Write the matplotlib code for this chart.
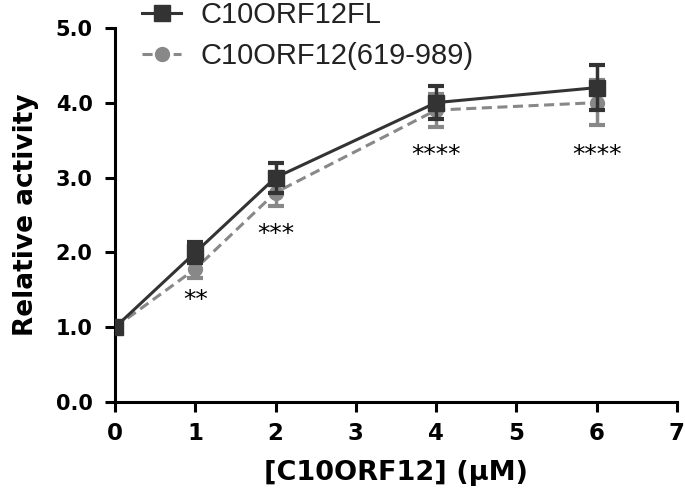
import matplotlib
matplotlib.use("Agg")
import matplotlib.pyplot as plt

# concentration [uM]
conc = [0, 1, 2, 4, 6]
# C10ORF12 full length
fl_mean = [1.0, 2.0, 3.0, 4.0, 4.2]
fl_err = [0.05, 0.14, 0.2, 0.22, 0.3]
# C10ORF12(619-989)
tr_mean = [1.0, 1.78, 2.8, 3.9, 4.0]
tr_err = [0.05, 0.12, 0.18, 0.22, 0.3]
# significance marks
sig_x = [1, 2, 4, 6]
sig_y = [1.36, 2.25, 3.3, 3.3]
sig_txt = ["**", "***", "****", "****"]

plt.rcParams['font.family'] = ['DejaVu Sans']

fig = plt.figure(figsize=(6.85, 4.99), dpi=100)
ax = fig.add_axes([0.1679, 0.1938, 0.8204, 0.7507])

dark = "#333333"
grey = "#888888"
tr = ax.errorbar(conc, tr_mean, yerr=tr_err, color=grey, ls="--", lw=2.2, dashes=(3.3, 1.8),
                 marker="o", ms=10, capsize=5.5, capthick=3, elinewidth=2.5, zorder=2)
fl = ax.errorbar(conc, fl_mean, yerr=fl_err, color=dark, ls="-", lw=2.2,
                 marker="s", ms=11, capsize=5.5, capthick=3, elinewidth=2.5, zorder=3)

for x, y, t in zip(sig_x, sig_y, sig_txt):
    ax.text(x, y, t, ha="center", va="center", fontsize=18, color="black")

ax.set_xlim(0, 7)
ax.set_ylim(0, 5)
ax.set_xticks(range(0, 8))
ax.set_yticks([0, 1, 2, 3, 4, 5])
ax.set_yticklabels(["%.1f" % v for v in [0, 1, 2, 3, 4, 5]])
for s in ["top", "right"]:
    ax.spines[s].set_visible(False)
for s in ["left", "bottom"]:
    ax.spines[s].set_linewidth(2.2)
ax.tick_params(width=2.2, length=7.2, direction="out")
ax.tick_params(axis="x", pad=7, labelsize=16.5)
ax.tick_params(axis="y", pad=9, labelsize=15)
for lbl in ax.get_xticklabels() + ax.get_yticklabels():
    lbl.set_fontweight("bold")

ax.set_xlabel("[C10ORF12] (\u03bcM)", fontsize=19.5, fontweight="bold", labelpad=11)
ax.set_ylabel("Relative activity", fontsize=19, fontweight="bold", labelpad=12)

leg = fig.legend([fl[0], tr[0]], ["C10ORF12FL", "C10ORF12(619-989)"],
                 loc="upper left", bbox_to_anchor=(142 / 685, 1 - 1 / 499),
                 frameon=False, handlelength=1.34, labelspacing=0.45,
                 borderaxespad=0, borderpad=0, handletextpad=0.67,
                 prop={"family": ["Liberation Sans", "DejaVu Sans"], "size": 21})
for t in leg.get_texts():
    t.set_color("#222222")

fig.savefig("out.png", dpi=100)
